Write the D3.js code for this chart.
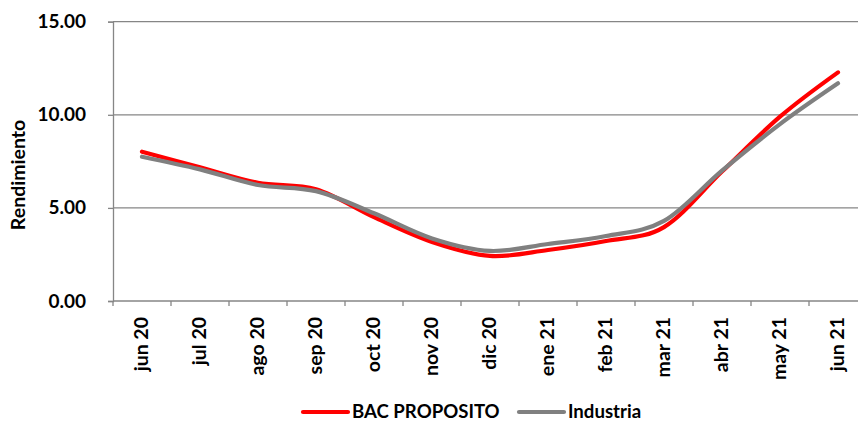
<!DOCTYPE html>
<html>
<head>
<meta charset="utf-8">
<script src="https://cdn.jsdelivr.net/npm/d3@7"></script>
<style>
  html, body { margin: 0; padding: 0; background: #fff; }
  svg { display: block; font-family: Lato, "Open Sans", sans-serif; font-weight: 700; }
</style>
</head>
<body>
<svg id="chart" width="858" height="422"></svg>
<script>
// Monthly categories (Spanish month abbreviations)
const months = ["jun 20", "jul 20", "ago 20", "sep 20", "oct 20", "nov 20", "dic 20",
                "ene 21", "feb 21", "mar 21", "abr 21", "may 21", "jun 21"];

// Yield (rendimiento, %) per month
const bacProposito = [8.02, 7.18, 6.35, 6.00, 4.50, 3.17, 2.42, 2.74, 3.22, 3.97, 6.95, 9.90, 12.28];
const industria    = [7.75, 7.07, 6.23, 5.90, 4.71, 3.36, 2.69, 3.06, 3.49, 4.30, 7.00, 9.50, 11.69];

// Y axis ticks
const yTicks = [0, 5, 10, 15];

const seriesNames = ["BAC PROPOSITO", "Industria"];
const seriesColors = ["#ff0000", "#808080"];

const svg = d3.select("#chart");

const plot = { left: 113, top: 21.7, bottom: 301, band: 58 };

const x = d3.scaleBand()
  .domain(months)
  .range([plot.left, plot.left + plot.band * months.length])
  .padding(0);

const y = d3.scaleLinear()
  .domain([0, 15])
  .range([plot.bottom, plot.top]);

const axisColor = "#868686";

// Horizontal gridlines
svg.append("g")
  .selectAll("line")
  .data(yTicks.filter(d => d > 0))
  .join("line")
  .attr("x1", plot.left)
  .attr("x2", 858)
  .attr("y1", d => y(d))
  .attr("y2", d => y(d))
  .attr("stroke", axisColor)
  .attr("stroke-width", 1.3);

// Y axis
const yAxis = svg.append("g")
  .attr("transform", `translate(${plot.left},0)`)
  .call(d3.axisLeft(y).tickValues(yTicks).tickSize(5).tickPadding(22).tickFormat(d3.format(".2f")));
yAxis.select(".domain").attr("stroke", axisColor).attr("stroke-width", 1.3);
yAxis.selectAll(".tick line").attr("stroke", axisColor).attr("stroke-width", 1.3);
yAxis.selectAll(".tick text")
  .attr("fill", "#000")
  .style("font-family", "Lato, sans-serif")
  .style("font-weight", "700")
  .style("font-size", "19px");

// X axis: ticks sit between categories
const xAxisG = svg.append("g").attr("class", "x-axis");
xAxisG.append("line")
  .attr("x1", plot.left)
  .attr("x2", 858)
  .attr("y1", y(0))
  .attr("y2", y(0))
  .attr("stroke", axisColor)
  .attr("stroke-width", 1.3);
xAxisG.selectAll("line.tick")
  .data(months)
  .join("line")
  .attr("class", "tick")
  .attr("x1", d => x(d))
  .attr("x2", d => x(d))
  .attr("y1", y(0))
  .attr("y2", y(0) + 5)
  .attr("stroke", axisColor)
  .attr("stroke-width", 1.3);
xAxisG.selectAll("text")
  .data(months)
  .join("text")
  .attr("transform", d => `translate(${x(d) + x.bandwidth() / 2 + 6},${y(0) + 16}) rotate(-90)`)
  .attr("text-anchor", "end")
  .attr("fill", "#000")
  .style("font-size", "19.5px")
  .text(d => d);

// Y axis title
svg.append("text")
  .attr("transform", "translate(25,175) rotate(-90)")
  .attr("text-anchor", "middle")
  .attr("fill", "#000")
  .style("font-size", "19.5px")
  .text("Rendimiento");

// Smoothed lines
const line = d3.line()
  .x((d, i) => x(months[i]) + x.bandwidth() / 2)
  .y(d => y(d))
  .curve(d3.curveCatmullRom.alpha(0));

[bacProposito, industria].forEach((vals, i) => {
  svg.append("path")
    .datum(vals)
    .attr("d", line)
    .attr("fill", "none")
    .attr("stroke", seriesColors[i])
    .attr("stroke-width", 4.2)
    .attr("stroke-linecap", "round")
    .attr("stroke-linejoin", "round");
});

// Legend
const legendItems = [
  { name: seriesNames[0], color: seriesColors[0], x: 303 },
  { name: seriesNames[1], color: seriesColors[1], x: 519 }
];
const legend = svg.append("g");
legendItems.forEach(item => {
  legend.append("line")
    .attr("x1", item.x)
    .attr("x2", item.x + 45)
    .attr("y1", 412)
    .attr("y2", 412)
    .attr("stroke", item.color)
    .attr("stroke-width", 4.2)
    .attr("stroke-linecap", "round");
  legend.append("text")
    .attr("x", item.x + 49)
    .attr("y", 418)
    .attr("fill", "#000")
    .style("font-size", "18.6px")
    .text(item.name);
});
</script>
</body>
</html>
